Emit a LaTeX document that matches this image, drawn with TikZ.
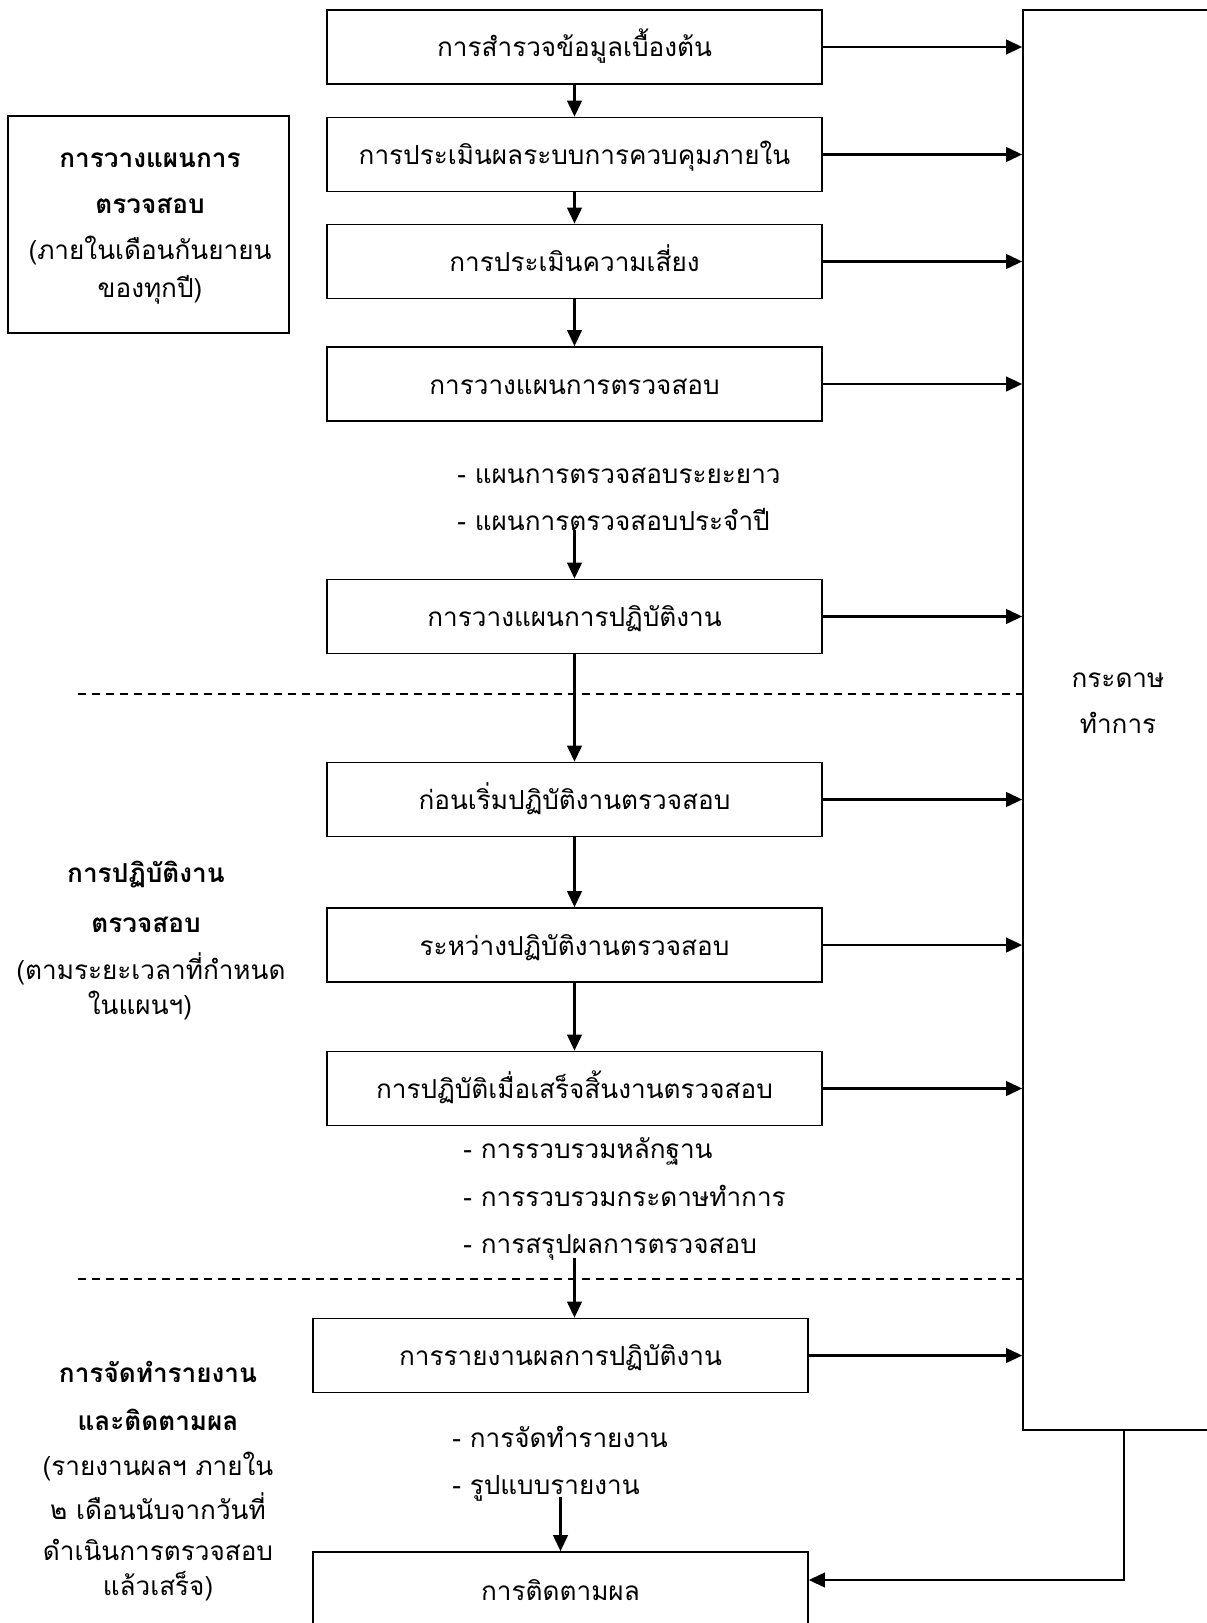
\documentclass[tikz,border=0pt]{standalone}
\usepackage{fontspec}
\setmainfont{Loma}[Script=Thai]
\usetikzlibrary{arrows.meta}
\begin{document}
\begin{tikzpicture}[x=0.75pt,y=-0.75pt,
  txt/.style={font=\fontsize{19.6}{22}\selectfont, inner sep=0pt, anchor=base},
  btxt/.style={txt, font=\fontsize{19.6}{22}\selectfont\bfseries},
  ltxt/.style={txt, anchor=base west},
  mainbox/.style={draw, line width=1.3pt, minimum width=371.25pt, minimum height=55.5pt, inner sep=0pt,
    text height=18pt, text depth=3pt, font=\fontsize{19.6}{22}\selectfont},
  arr/.style={line width=1.6pt, -{Triangle[length=12pt,width=11pt]}},
  dline/.style={line width=1.2pt, dash pattern=on 6pt off 4.5pt}]
\useasboundingbox (0,0) rectangle (1206,1623);
% right column
\node[draw, line width=1.3pt, minimum width=142.5pt, minimum height=1065pt, inner sep=0pt] (paper) at (1118,720) {};
\node[txt] (pa) at (1118,687) {กระดาษ};
\node[txt] (pb) at (1118,733) {ทำการ};
% main boxes
\node[mainbox] (b1) at (574.5,47) {การสำรวจข้อมูลเบื้องต้น};
\node[mainbox] (b2) at (574.5,154.5) {การประเมินผลระบบการควบคุมภายใน};
\node[mainbox] (b3) at (574.5,261.5) {การประเมินความเสี่ยง};
\node[mainbox] (b4) at (574.5,384) {การวางแผนการตรวจสอบ};
\node[mainbox] (b5) at (574.5,616.5) {การวางแผนการปฏิบัติงาน};
\node[mainbox] (b6) at (574.5,799.5) {ก่อนเริ่มปฏิบัติงานตรวจสอบ};
\node[mainbox] (b7) at (574.5,945) {ระหว่างปฏิบัติงานตรวจสอบ};
\node[mainbox] (b8) at (574.5,1088.5) {การปฏิบัติเมื่อเสร็จสิ้นงานตรวจสอบ};
\node[mainbox] (b9) at (560.5,1355.5) {การรายงานผลการปฏิบัติงาน};
\node[mainbox, minimum height=57pt] (b10) at (560.5,1590) {การติดตามผล};
% sub texts
\node[ltxt] (s1a) at (457,483) {- แผนการตรวจสอบระยะยาว};
\node[ltxt] (s1b) at (457,530) {- แผนการตรวจสอบประจำปี};
\node[ltxt] (s2a) at (463,1158) {- การรวบรวมหลักฐาน};
\node[ltxt] (s2b) at (463,1206) {- การรวบรวมกระดาษทำการ};
\node[ltxt] (s2c) at (463,1253) {- การสรุปผลการตรวจสอบ};
\node[ltxt] (s3a) at (452,1447) {- การจัดทำรายงาน};
\node[ltxt] (s3b) at (452,1494) {- รูปแบบรายงาน};
% left labels
\node[draw, line width=1.3pt, minimum width=210.75pt, minimum height=162.75pt] (l1) at (148.5,224.5) {};
\node[btxt] (l1a) at (150,167) {การวางแผนการ};
\node[btxt] (l1b) at (150,213) {ตรวจสอบ};
\node[txt] (l1c) at (150,259) {(ภายในเดือนกันยายน};
\node[txt] (l1d) at (150,297) {ของทุกปี)};
\node[btxt] (l2a) at (146,882) {การปฏิบัติงาน};
\node[btxt] (l2b) at (146,932) {ตรวจสอบ};
\node[txt] (l2c) at (151,979) {(ตามระยะเวลาที่กำหนด};
\node[txt] (l2d) at (140,1014) {ในแผนฯ)};
\node[btxt] (l3a) at (158,1382) {การจัดทำรายงาน};
\node[btxt] (l3b) at (158,1430) {และติดตามผล};
\node[txt] (l3c) at (158,1475) {(รายงานผลฯ ภายใน};
\node[txt] (l3d) at (158,1519) {๒ เดือนนับจากวันที่};
\node[txt] (l3e) at (158,1560) {ดำเนินการตรวจสอบ};
\node[txt] (l3f) at (158,1595) {แล้วเสร็จ)};
% dashed separators
\coordinate (d1) at (78,694);
\coordinate (d2) at (78,1279);
\draw[dline] (d1) -- (d1 -| paper.west);
\draw[dline] (d2) -- (d2 -| paper.west);
% vertical flow
\draw[arr] (b1) -- (b2);
\draw[arr] (b2) -- (b3);
\draw[arr] (b3) -- (b4);
\coordinate (c1) at (574.5,530);
\draw[arr] (c1) -- (b5.north);
\draw[arr] (b5) -- (b6);
\draw[arr] (b6) -- (b7);
\draw[arr] (b7) -- (b8);
\coordinate (c2) at (574.5,1258);
\draw[arr] (c2) -- (c2 |- b9.north);
\coordinate (c3) at (560.5,1497);
\draw[arr] (c3) -- (b10.north);
% to paper
\foreach \b in {b1,b2,b3,b4,b5,b6,b7,b8,b9}
  \draw[arr] (\b.east) -- (\b.east -| paper.west);
% paper to follow-up
\coordinate (t) at (1124,1580);
\draw[arr] (t |- paper.south) -- (t) -- (t -| b10.east);
\end{tikzpicture}
\end{document}
